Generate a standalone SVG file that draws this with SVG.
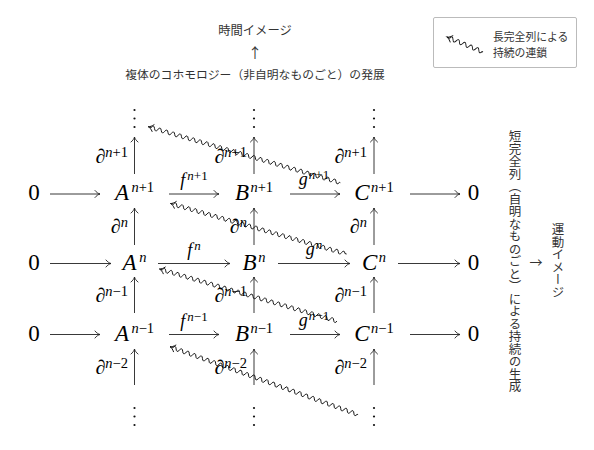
<svg xmlns="http://www.w3.org/2000/svg" width="594" height="450" viewBox="0 0 594 450">
<style>
.m{font-family:"Liberation Serif",serif;font-size:23px;fill:#000}
.i{font-style:italic}
.sp{font-size:14.5px}
.lb{font-size:20px}
.fl{font-size:18px}
.fs{font-size:13px}
.jp{font-family:"Noto Sans CJK JP",sans-serif;fill:#333}
.ar{stroke:#222;stroke-width:0.9;fill:none;marker-end:url(#ah)}
.wv{stroke:#111;stroke-width:0.9;fill:none;marker-start:url(#ahs)}
.dt{fill:#111}
</style>
<defs>
<marker id="ah" markerUnits="userSpaceOnUse" markerWidth="8" markerHeight="8" refX="0" refY="0" orient="auto" overflow="visible">
<path d="M-5,-3.5 C-3.5,-1.5 -1.5,-0.4 0,0 C-1.5,0.4 -3.5,1.5 -5,3.5" fill="none" stroke="#222" stroke-width="0.9" stroke-linecap="round"/>
</marker>
<marker id="ahs" markerUnits="userSpaceOnUse" markerWidth="8" markerHeight="8" refX="0" refY="0" orient="auto-start-reverse" overflow="visible">
<path d="M-5,-3.5 C-3.5,-1.5 -1.5,-0.4 0,0 C-1.5,0.4 -3.5,1.5 -5,3.5" fill="none" stroke="#111" stroke-width="0.9" stroke-linecap="round"/>
</marker>
</defs>
<rect width="594" height="450" fill="#fff"/>

<g id="title">
<text class="jp" x="255" y="35" text-anchor="middle" font-size="12.3">時間イメージ</text>
<text class="jp" x="255" y="58" text-anchor="middle" font-size="14">↑</text>
<text class="jp" x="255" y="79" text-anchor="middle" font-size="11.8">複体のコホモロジー（非自明なものごと）の発展</text>
</g>

<g id="legend">
<rect x="433.5" y="17.5" width="143" height="50" rx="1.5" fill="#fff" stroke="#bbb" stroke-width="1"/>
<path class="wv" transform="translate(447,37) rotate(22.6)" d="M0,0 h3 q1.75,-4 3.5,0 t3.5,0 t3.5,0 t3.5,0 t3.5,0 t3.5,0 t3.5,0 t3.5,0 t3.5,0 t3.5,0 h1"/>
<text class="jp" x="493" y="40.5" font-size="10.8">長完全列による</text>
<text class="jp" x="493" y="57" font-size="10.8">持続の連鎖</text>
</g>

<g id="side">
<text class="jp" x="515" y="130" font-size="12.5" style="writing-mode:vertical-rl">短完全列（自明なものごと）による持続の生成</text>
<text class="jp" x="536" y="267" text-anchor="middle" font-size="13">→</text>
<text class="jp" x="558" y="223" font-size="12.5" style="writing-mode:vertical-rl">運動イメージ</text>
</g>

<g id="connectors">
<path class="ar" d="M50,194 H100"/>
<path class="ar" d="M169,194 H219"/>
<path class="ar" d="M290,194 H340"/>
<path class="ar" d="M410,194 H460"/>
<path class="ar" d="M50,263.5 H111"/>
<path class="ar" d="M158,263.5 H230"/>
<path class="ar" d="M278,263.5 H350"/>
<path class="ar" d="M398,263.5 H460"/>
<path class="ar" d="M50,334.5 H100"/>
<path class="ar" d="M169,334.5 H219"/>
<path class="ar" d="M290,334.5 H340"/>
<path class="ar" d="M410,334.5 H460"/>

<path class="ar" d="M134.5,174 V137"/>
<path class="ar" d="M134.5,245 V208"/>
<path class="ar" d="M134.5,313 V277"/>
<path class="ar" d="M134.5,385 V349"/>
<path class="ar" d="M254,174 V137"/>
<path class="ar" d="M254,245 V208"/>
<path class="ar" d="M254,313 V277"/>
<path class="ar" d="M254,385 V349"/>
<path class="ar" d="M374,174 V137"/>
<path class="ar" d="M374,245 V208"/>
<path class="ar" d="M374,313 V277"/>
<path class="ar" d="M374,385 V349"/>

<path class="wv" transform="translate(148.3,126.7) rotate(16.26)" d="M0,0 h3 q1.75,-4 3.5,0 t3.5,0 t3.5,0 t3.5,0 t3.5,0 t3.5,0 t3.5,0 t3.5,0 t3.5,0 t3.5,0 t3.5,0 t3.5,0 t3.5,0 t3.5,0 t3.5,0 t3.5,0 t3.5,0 t3.5,0 t3.5,0 t3.5,0 t3.5,0 t3.5,0 t3.5,0 t3.5,0 t3.5,0 t3.5,0 t3.5,0 t3.5,0 t3.5,0 t3.5,0 t3.5,0 t3.5,0 t3.5,0 t3.5,0 t3.5,0 t3.5,0 t3.5,0 t3.5,0 t3.5,0 t3.5,0 t3.5,0 t3.5,0 t3.5,0 t3.5,0 t3.5,0 t3.5,0 t3.5,0 t3.5,0 t3.5,0 t3.5,0 t3.5,0 t3.5,0 t3.5,0 t3.5,0 t3.5,0 t3.5,0 h1"/>
<path class="wv" transform="translate(170.5,203.5) rotate(16.01)" d="M0,0 h3 q1.75,-4 3.5,0 t3.5,0 t3.5,0 t3.5,0 t3.5,0 t3.5,0 t3.5,0 t3.5,0 t3.5,0 t3.5,0 t3.5,0 t3.5,0 t3.5,0 t3.5,0 t3.5,0 t3.5,0 t3.5,0 t3.5,0 t3.5,0 t3.5,0 t3.5,0 t3.5,0 t3.5,0 t3.5,0 t3.5,0 t3.5,0 t3.5,0 t3.5,0 t3.5,0 t3.5,0 t3.5,0 t3.5,0 t3.5,0 t3.5,0 t3.5,0 t3.5,0 t3.5,0 t3.5,0 t3.5,0 t3.5,0 t3.5,0 t3.5,0 t3.5,0 t3.5,0 t3.5,0 t3.5,0 t3.5,0 t3.5,0 t3.5,0 t3.5,0 t3.5,0 h1.7"/>
<path class="wv" transform="translate(159.5,269) rotate(16.36)" d="M0,0 h3 q1.75,-4 3.5,0 t3.5,0 t3.5,0 t3.5,0 t3.5,0 t3.5,0 t3.5,0 t3.5,0 t3.5,0 t3.5,0 t3.5,0 t3.5,0 t3.5,0 t3.5,0 t3.5,0 t3.5,0 t3.5,0 t3.5,0 t3.5,0 t3.5,0 t3.5,0 t3.5,0 t3.5,0 t3.5,0 t3.5,0 t3.5,0 t3.5,0 t3.5,0 t3.5,0 t3.5,0 t3.5,0 t3.5,0 t3.5,0 t3.5,0 t3.5,0 t3.5,0 t3.5,0 t3.5,0 t3.5,0 t3.5,0 t3.5,0 t3.5,0 t3.5,0 t3.5,0 t3.5,0 t3.5,0 t3.5,0 t3.5,0 t3.5,0 t3.5,0 t3.5,0 t3.5,0"/>
<path class="wv" transform="translate(170,346.7) rotate(19.87)" d="M0,0 h3 q1.75,-4 3.5,0 t3.5,0 t3.5,0 t3.5,0 t3.5,0 t3.5,0 t3.5,0 t3.5,0 t3.5,0 t3.5,0 t3.5,0 t3.5,0 t3.5,0 t3.5,0 t3.5,0 t3.5,0 t3.5,0 t3.5,0 t3.5,0 t3.5,0 t3.5,0 t3.5,0 t3.5,0 t3.5,0 t3.5,0 t3.5,0 t3.5,0 t3.5,0 t3.5,0 t3.5,0 t3.5,0 t3.5,0 t3.5,0 t3.5,0 t3.5,0 t3.5,0 t3.5,0 t3.5,0 t3.5,0 t3.5,0 t3.5,0 t3.5,0 t3.5,0 t3.5,0 t3.5,0 t3.5,0 t3.5,0 t3.5,0 t3.5,0 t3.5,0 t3.5,0 t3.5,0 t3.5,0 t3.5,0 t3.5,0 t3.5,0 h1"/>
</g>

<g id="dots-top">
<circle class="dt" cx="134.5" cy="110" r="1.1"/><circle class="dt" cx="134.5" cy="118.5" r="1.1"/><circle class="dt" cx="134.5" cy="127" r="1.1"/>
<circle class="dt" cx="254" cy="110" r="1.1"/><circle class="dt" cx="254" cy="118.5" r="1.1"/><circle class="dt" cx="254" cy="127" r="1.1"/>
<circle class="dt" cx="374" cy="110" r="1.1"/><circle class="dt" cx="374" cy="118.5" r="1.1"/><circle class="dt" cx="374" cy="127" r="1.1"/>
</g>
<g id="dots-bottom">
<circle class="dt" cx="134.5" cy="408" r="1.1"/><circle class="dt" cx="134.5" cy="416.5" r="1.1"/><circle class="dt" cx="134.5" cy="425" r="1.1"/>
<circle class="dt" cx="254" cy="408" r="1.1"/><circle class="dt" cx="254" cy="416.5" r="1.1"/><circle class="dt" cx="254" cy="425" r="1.1"/>
<circle class="dt" cx="374" cy="408" r="1.1"/><circle class="dt" cx="374" cy="416.5" r="1.1"/><circle class="dt" cx="374" cy="425" r="1.1"/>
</g>

<g id="zero-l1"><text class="m" x="34" y="200" text-anchor="middle">0</text></g>
<g id="A-n1"><text class="m" x="134.5" y="200" text-anchor="middle"><tspan class="i">A</tspan><tspan class="sp" dx="2.5" dy="-8"><tspan class="i">n</tspan>+1</tspan></text></g>
<g id="B-n1"><text class="m" x="254" y="200" text-anchor="middle"><tspan class="i">B</tspan><tspan class="sp" dx="1.5" dy="-8"><tspan class="i">n</tspan>+1</tspan></text></g>
<g id="C-n1"><text class="m" x="374" y="200" text-anchor="middle"><tspan class="i">C</tspan><tspan class="sp" dx="1.5" dy="-8"><tspan class="i">n</tspan>+1</tspan></text></g>
<g id="zero-r1"><text class="m" x="473.5" y="200" text-anchor="middle">0</text></g>

<g id="zero-l2"><text class="m" x="34" y="269.5" text-anchor="middle">0</text></g>
<g id="A-n"><text class="m" x="134.5" y="269.5" text-anchor="middle"><tspan class="i">A</tspan><tspan class="sp i" dx="2.5" dy="-8">n</tspan></text></g>
<g id="B-n"><text class="m" x="254" y="269.5" text-anchor="middle"><tspan class="i">B</tspan><tspan class="sp i" dx="1.5" dy="-8">n</tspan></text></g>
<g id="C-n"><text class="m" x="374" y="269.5" text-anchor="middle"><tspan class="i">C</tspan><tspan class="sp i" dx="1.5" dy="-8">n</tspan></text></g>
<g id="zero-r2"><text class="m" x="473.5" y="269.5" text-anchor="middle">0</text></g>

<g id="zero-l3"><text class="m" x="34" y="340.5" text-anchor="middle">0</text></g>
<g id="A-nm1"><text class="m" x="134.5" y="340.5" text-anchor="middle"><tspan class="i">A</tspan><tspan class="sp" dx="2.5" dy="-8"><tspan class="i">n</tspan>−1</tspan></text></g>
<g id="B-nm1"><text class="m" x="254" y="340.5" text-anchor="middle"><tspan class="i">B</tspan><tspan class="sp" dx="1.5" dy="-8"><tspan class="i">n</tspan>−1</tspan></text></g>
<g id="C-nm1"><text class="m" x="374" y="340.5" text-anchor="middle"><tspan class="i">C</tspan><tspan class="sp" dx="1.5" dy="-8"><tspan class="i">n</tspan>−1</tspan></text></g>
<g id="zero-r3"><text class="m" x="473.5" y="340.5" text-anchor="middle">0</text></g>

<g id="labels-h">
<text class="m fl" x="194" y="186" text-anchor="middle"><tspan class="i">f</tspan><tspan class="fs" dx="2" dy="-6"><tspan class="i">n</tspan>+1</tspan></text>
<text class="m fl" x="314" y="185" text-anchor="middle"><tspan class="i">g</tspan><tspan class="fs" dx="1" dy="-6"><tspan class="i">n</tspan>+1</tspan></text>
<text class="m fl" x="194" y="255.5" text-anchor="middle"><tspan class="i">f</tspan><tspan class="fs i" dx="2" dy="-6">n</tspan></text>
<text class="m fl" x="314" y="254.5" text-anchor="middle"><tspan class="i">g</tspan><tspan class="fs i" dx="1" dy="-6">n</tspan></text>
<text class="m fl" x="194" y="326.5" text-anchor="middle"><tspan class="i">f</tspan><tspan class="fs" dx="2" dy="-6"><tspan class="i">n</tspan>−1</tspan></text>
<text class="m fl" x="314" y="325.5" text-anchor="middle"><tspan class="i">g</tspan><tspan class="fs" dx="1" dy="-6"><tspan class="i">n</tspan>−1</tspan></text>
</g>

<g id="labels-v">
<text class="m lb" x="128" y="163" text-anchor="end"><tspan class="i">∂</tspan><tspan class="sp" dy="-6"><tspan class="i">n</tspan>+1</tspan></text>
<text class="m lb" x="128" y="233" text-anchor="end"><tspan class="i">∂</tspan><tspan class="sp i" dy="-6">n</tspan></text>
<text class="m lb" x="128" y="302" text-anchor="end"><tspan class="i">∂</tspan><tspan class="sp" dy="-6"><tspan class="i">n</tspan>−1</tspan></text>
<text class="m lb" x="128" y="374" text-anchor="end"><tspan class="i">∂</tspan><tspan class="sp" dy="-6"><tspan class="i">n</tspan>−2</tspan></text>
<text class="m lb" x="247" y="163" text-anchor="end"><tspan class="i">∂</tspan><tspan class="sp" dy="-6"><tspan class="i">n</tspan>+1</tspan></text>
<text class="m lb" x="247" y="233" text-anchor="end"><tspan class="i">∂</tspan><tspan class="sp i" dy="-6">n</tspan></text>
<text class="m lb" x="247" y="302" text-anchor="end"><tspan class="i">∂</tspan><tspan class="sp" dy="-6"><tspan class="i">n</tspan>−1</tspan></text>
<text class="m lb" x="247" y="374" text-anchor="end"><tspan class="i">∂</tspan><tspan class="sp" dy="-6"><tspan class="i">n</tspan>−2</tspan></text>
<text class="m lb" x="367" y="163" text-anchor="end"><tspan class="i">∂</tspan><tspan class="sp" dy="-6"><tspan class="i">n</tspan>+1</tspan></text>
<text class="m lb" x="367" y="233" text-anchor="end"><tspan class="i">∂</tspan><tspan class="sp i" dy="-6">n</tspan></text>
<text class="m lb" x="367" y="302" text-anchor="end"><tspan class="i">∂</tspan><tspan class="sp" dy="-6"><tspan class="i">n</tspan>−1</tspan></text>
<text class="m lb" x="367" y="374" text-anchor="end"><tspan class="i">∂</tspan><tspan class="sp" dy="-6"><tspan class="i">n</tspan>−2</tspan></text>
</g>
</svg>
